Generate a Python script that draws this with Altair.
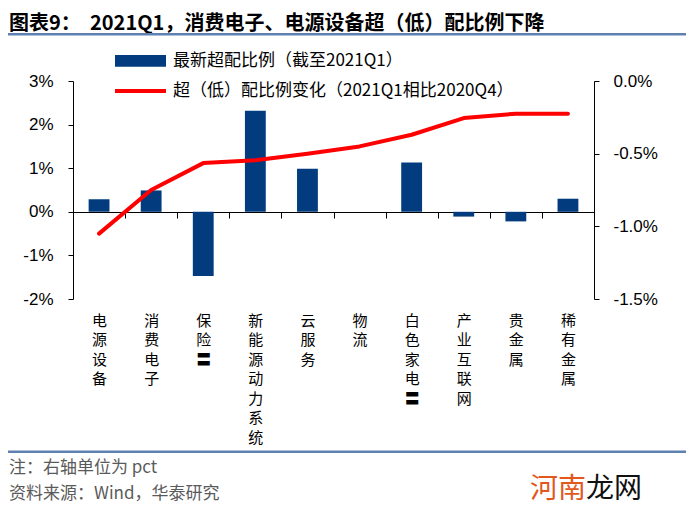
import altair as alt
import pandas as pd

categories = ["电源设备", "消费电子", "保险Ⅱ", "新能源动力系统", "云服务", "物流",
              "白色家电Ⅱ", "产业互联网", "贵金属", "稀有金属"]
overweight = [0.29, 0.49, -1.47, 2.32, 0.99, 0.0, 1.13, -0.11, -0.22, 0.30]
change = [-1.05, -0.75, -0.565, -0.545, -0.50, -0.45, -0.37, -0.255, -0.225, -0.225]

left_ticks = [-2, -1, 0, 1, 2, 3]
right_ticks = [-1.5, -1.0, -0.5, 0.0]

title_a = "图表9："
title_b = "2021Q1，消费电子、电源设备超（低）配比例下降"
legend_bar = "最新超配比例（截至2021Q1）"
legend_line = "超（低）配比例变化（2021Q1相比2020Q4）"
note1 = "注：右轴单位为 pct"
note2 = "资料来源：Wind，华泰研究"
wm_a = "河南"
wm_b = "龙网"

BAR = "#023B7E"
RED = "#FF0000"
BLUE_LINE = "#5F81B1"
CJK = "Noto Sans CJK SC"
LAT = "Liberation Sans"

df = pd.DataFrame({"cat": categories, "ow": overweight, "chg": change})

W, H = 521, 218

xenc = alt.X(
    "cat:N", sort=categories, title=None,
    scale=alt.Scale(paddingInner=0, paddingOuter=0),
    axis=alt.Axis(
        orient="bottom", offset=-87, domain=True, domainColor="black", domainWidth=1,
        ticks=True, tickBand="extent", tickSize=6, tickColor="black",
        labelAngle=0, labelAlign="center", labelBaseline="top",
        labelPadding=95, labelFont=CJK, labelFontSize=15, labelLineHeight=19.5,
        labelColor="black", labelOverlap=False,
        labelExpr="split(replace(datum.label, 'Ⅱ', '〓'), '')",
        grid=False,
    ),
)

bars = alt.Chart(df).mark_bar(color=BAR, width=alt.RelativeBandSize(0.4)).encode(
    x=xenc,
    y=alt.Y("ow:Q", title=None, scale=alt.Scale(domain=[-2, 3], nice=False, zero=False),
            axis=alt.Axis(orient="left", values=left_ticks, labelExpr="datum.value + '%'",
                          domainColor="black", tickColor="black", tickSize=5,
                          labelPadding=15, labelFont=LAT, labelFontSize=17,
                          labelColor="black", grid=False)),
)

line = alt.Chart(df).mark_line(color=RED, strokeWidth=4, strokeCap="round", strokeJoin="round").encode(
    x=xenc,
    y=alt.Y("chg:Q", title=None, scale=alt.Scale(domain=[-1.5, 0], nice=False, zero=False),
            axis=alt.Axis(orient="right", values=right_ticks,
                          labelExpr="(datum.value < 0 ? '-' : '') + format(abs(datum.value), '.1f') + '%'",
                          domainColor="black", tickColor="black", tickSize=5,
                          labelPadding=14, labelFont=LAT, labelFontSize=17,
                          labelColor="black", grid=False)),
)

one = pd.DataFrame({"t": [0]})


def txt(s, x, y, size, color="black", weight="normal", font=CJK):
    return alt.Chart(pd.DataFrame({"t": [s]})).mark_text(
        align="left", baseline="middle", fontSize=size, font=font,
        fontWeight=weight, color=color,
    ).encode(x=alt.value(x), y=alt.value(y), text="t:N")


def hline(x1, x2, y, color, width):
    return alt.Chart(one).mark_rule(color=color, strokeWidth=width).encode(
        x=alt.value(x1), x2=alt.value(x2), y=alt.value(y))


swatch = alt.Chart(one).mark_rect(color=BAR).encode(
    x=alt.value(42), x2=alt.value(93), y=alt.value(-26), y2=alt.value(-14.3))

layers = [
    bars, line,
    txt(title_a, -64, -57, 20, weight="bold"),
    txt(title_b, 17, -57, 20, weight="bold"),
    hline(-65, 613, -46.7, BLUE_LINE, 2.5),
    swatch,
    txt(legend_bar, 100, -20.3, 17),
    hline(42, 93, 10, RED, 4),
    txt(legend_line, 100, 10, 17),
    hline(-65, 613, 370.7, BLUE_LINE, 2.5),
    txt(note1, -64, 387, 17, color="#5A5A5A"),
    txt(note2, -64, 413, 17, color="#5A5A5A"),
    txt(wm_a, 457, 409, 28, color="#E2581C"),
    txt(wm_b, 513, 409, 28, color="#111111"),
]

chart = alt.layer(*layers).resolve_scale(y="independent").properties(
    width=W, height=H,
    autosize=alt.AutoSizeParams(type="none"),
    padding={"left": 65, "top": 73, "right": 92, "bottom": 215},
    background="white",
).configure_view(stroke=None)

chart.save("out.html", embed_options={"renderer": "svg", "actions": False})
